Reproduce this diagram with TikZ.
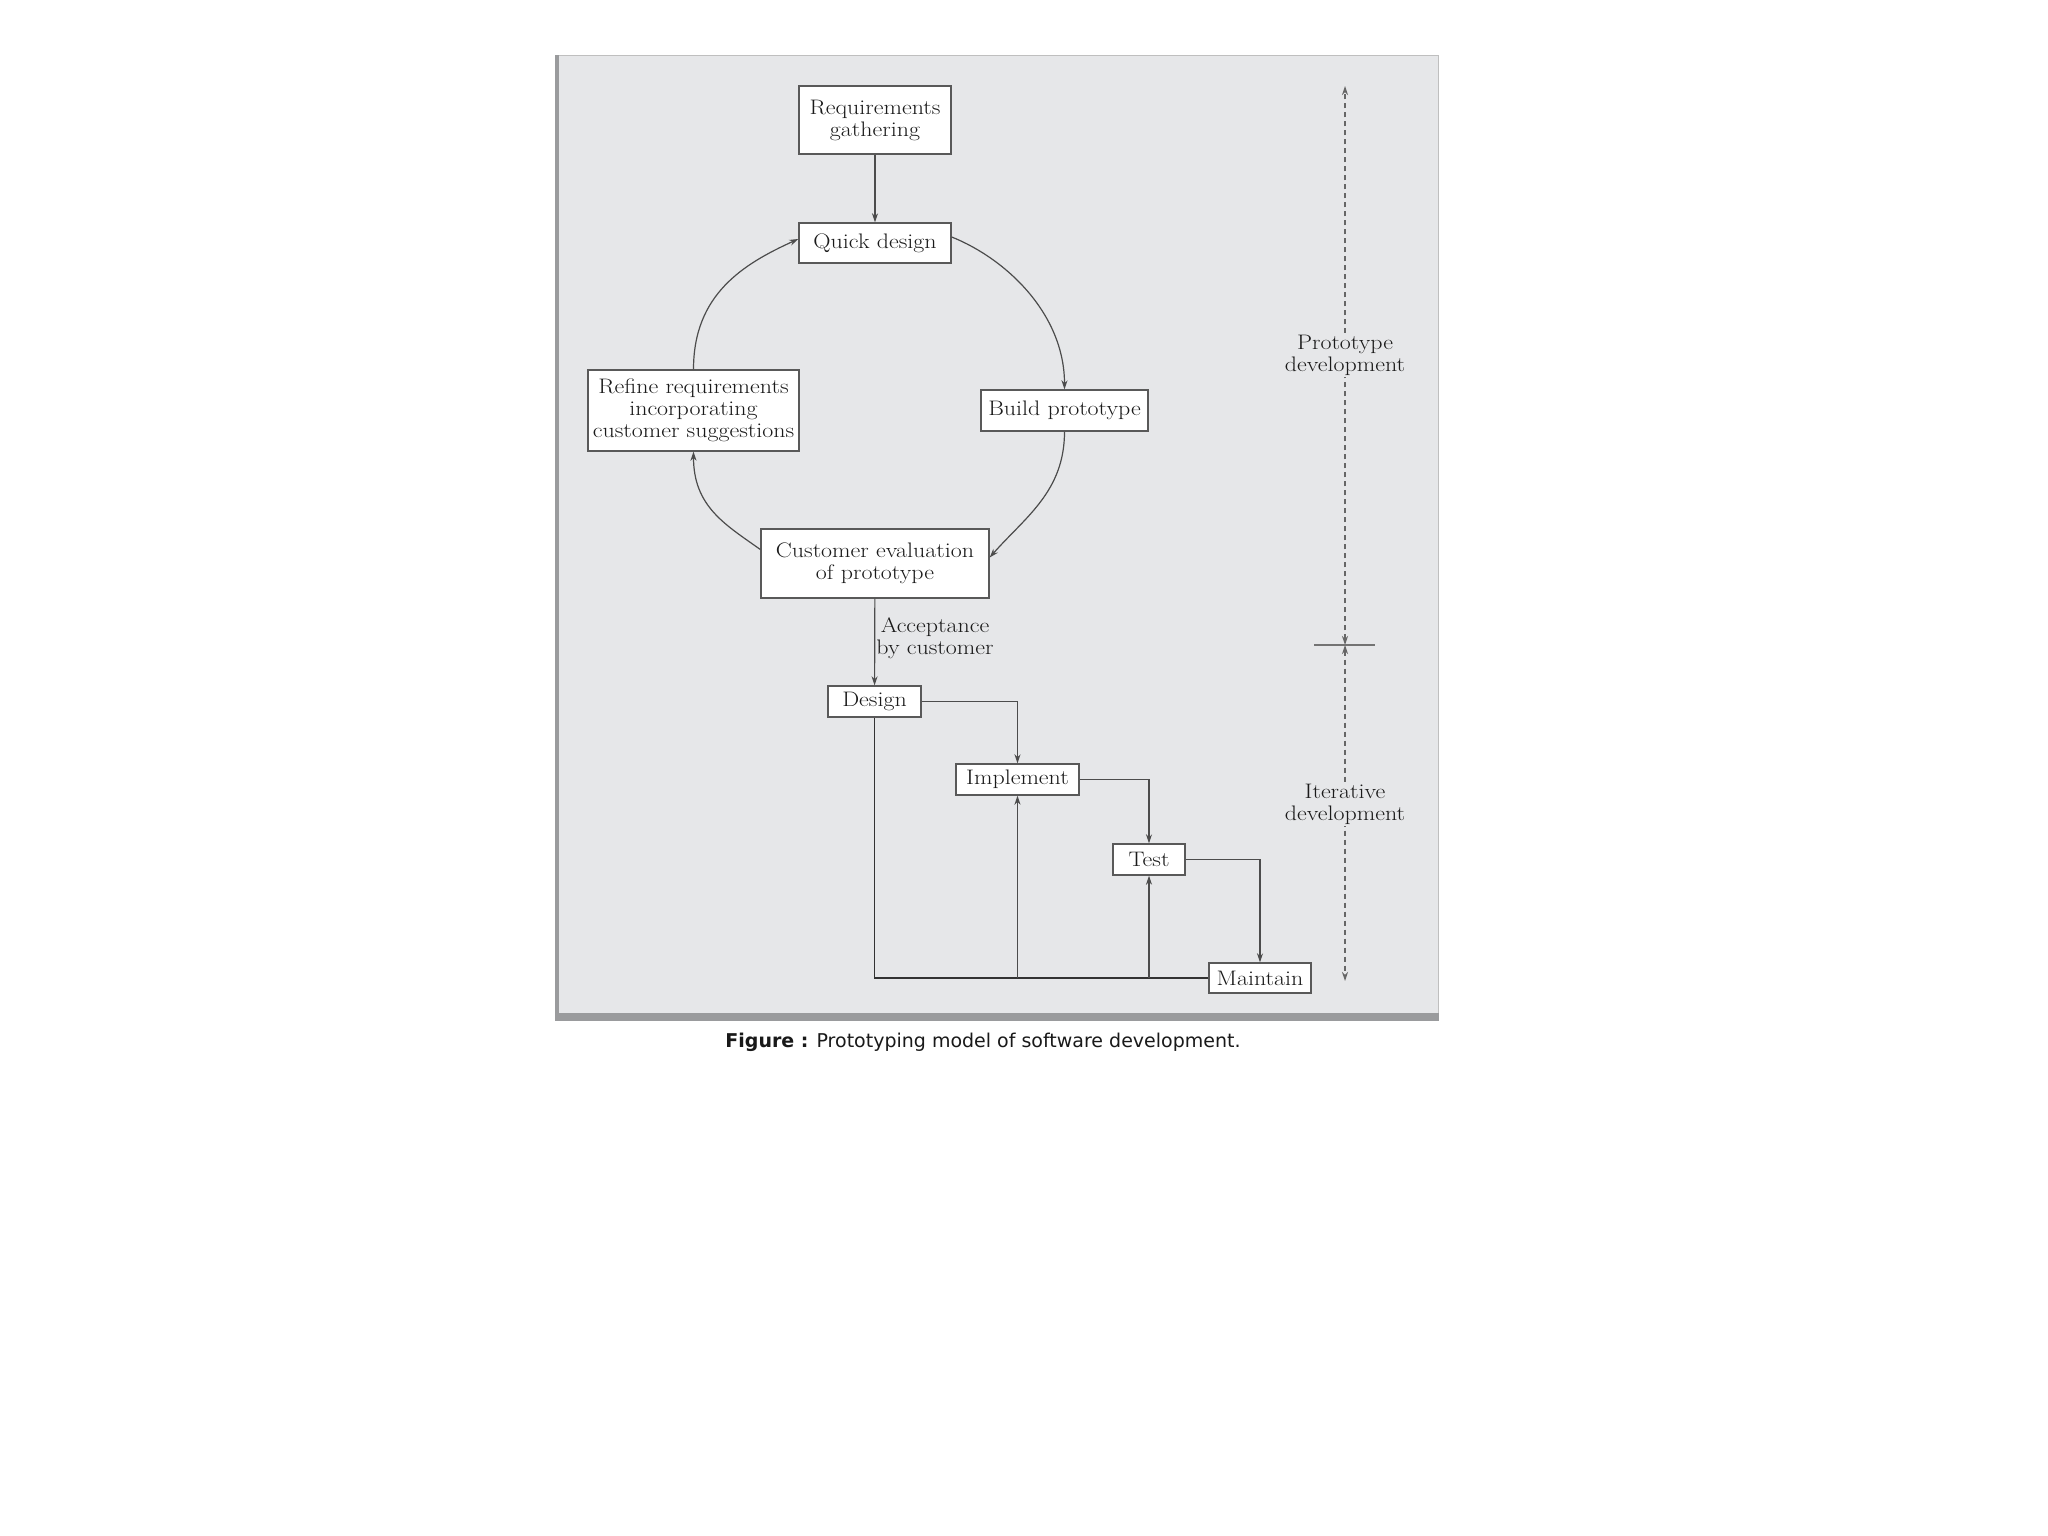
\documentclass[tikz,border=0pt]{standalone}
\usepackage{fontspec}
\newfontfamily\capfont{DejaVu Sans}
\newfontfamily\boxfont{Latin Modern Roman}[FakeStretch=1.14]
\usetikzlibrary{arrows.meta}
\definecolor{panel}{HTML}{E6E7E9}
\definecolor{panelshade}{HTML}{9A9B9D}
\definecolor{ink}{HTML}{1A1A1A}
\begin{document}
\begin{tikzpicture}[x=1pt,y=-1pt,
  box/.style={draw=black!65, fill=white, line width=1.4pt, inner sep=0pt, align=center,
    font=\boxfont\fontsize{21}{22}\selectfont, text=ink},
  lbl/.style={inner sep=2pt, align=center, font=\boxfont\fontsize{21}{22}\selectfont, text=ink},
  conn/.style={draw=black!70, line width=1.2pt, -{Stealth[length=9pt,width=6pt]}},
  plain/.style={draw=black!80, line width=1.6pt},
  scaleline/.style={draw=black!60, line width=1.1pt, dash pattern=on 5pt off 4pt,
    {Stealth[length=9pt,width=6pt]}-{Stealth[length=9pt,width=6pt]}}
]
\useasboundingbox (0,0) rectangle (2048,1536);
\fill[white] (0,0) rectangle (2048,1536);
% panel
\fill[panelshade] (555,55) rectangle (1439,1021);
\fill[panel] (559,56) rectangle (1438,1013);
\draw[black!25, line width=1pt] (559,56) -- (1438,56) -- (1438,1013);

% nodes
\node[box, minimum width=152pt, minimum height=68pt] (req) at (875,120) {Requirements\\gathering};
\node[box, minimum width=152pt, minimum height=40pt] (qd) at (875,243) {Quick design};
\node[box, minimum width=167pt, minimum height=41pt] (bp) at (1064.5,410.5) {Build prototype};
\node[box, minimum width=211pt, minimum height=81pt] (ref) at (693.5,410.5) {Refine requirements\\incorporating\\customer suggestions};
\node[box, minimum width=228pt, minimum height=69pt] (ce) at (875,563.5) {Customer evaluation\\of prototype};
\node[box, minimum width=93pt, minimum height=31pt] (des) at (874.5,701.5) {Design};
\node[box, minimum width=123pt, minimum height=31pt] (imp) at (1017.5,779.5) {Implement};
\node[box, minimum width=72pt, minimum height=31pt] (tst) at (1149,859.5) {Test};
\node[box, minimum width=102pt, minimum height=30pt] (mnt) at (1260,978) {Maintain};

\node[lbl] (acc) at (935,638) {Acceptance\\by customer};

% prototype loop
\draw[conn] (req) -- (qd);
\draw[conn] ([yshift=6pt]qd.east) .. controls +(55,22) and +(0,-75) .. (bp.north);
\draw[conn] (bp.south) .. controls +(0,60) and +(35,-40) .. ([yshift=6pt]ce.east);
\draw[conn] ([yshift=14pt]ce.west) .. controls +(-35,-25) and +(0,55) .. (ref.south);
\draw[conn] (ref.north) .. controls +(0,-75) and +(-55,25) .. ([yshift=4pt]qd.west);
\draw[conn] (ce) -- (des);

% iterative part
\draw[conn] (des.east) -| (imp.north);
\draw[conn] (imp.east) -| (tst.north);
\draw[conn] (tst.east) -| (mnt.north);
\coordinate (b1) at (imp.south |- mnt.west);
\coordinate (b2) at (tst.south |- mnt.west);
\draw[plain] (mnt.west) -- (des.south |- mnt.west) -- (des.south);
\draw[conn] (b1) -- (imp.south);
\draw[conn] (b2) -- (tst.south);

% side scale
\coordinate (ttop) at (1345,86);
\coordinate (tmid) at (1345,645);
\coordinate (tbot) at (1345,981);
\coordinate (tl) at (1314,645);
\coordinate (tr) at (1375,645);
\draw[scaleline] (tmid) -- (ttop);
\draw[scaleline] (tmid) -- (tbot);
\draw[draw=black!55, line width=1.1pt] (tl) -- (tr);
\node[lbl, fill=panel] (pd) at (1345,355) {Prototype\\development};
\node[lbl, fill=panel] (id) at (1345,804) {Iterative\\development};

% caption
\node[inner sep=0pt, font=\capfont\fontsize{19}{21}\selectfont, text=black!90] (cap) at (983,1042)
  {\textbf{Figure :} Prototyping model of software development.};
\end{tikzpicture}
\end{document}
